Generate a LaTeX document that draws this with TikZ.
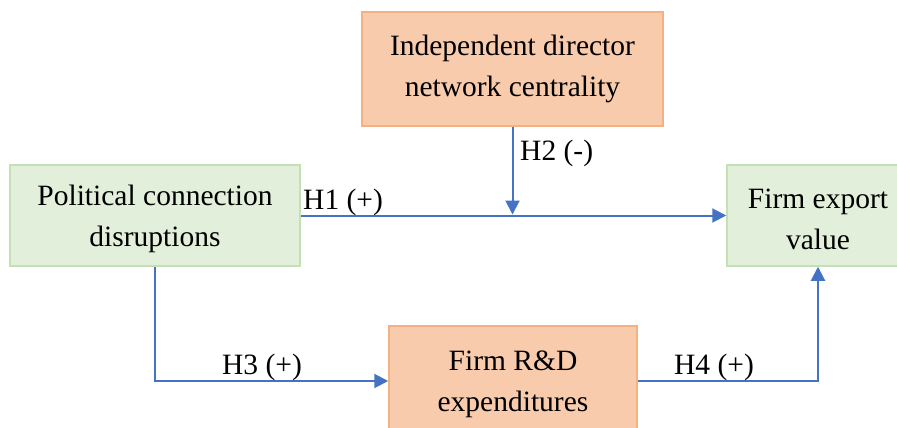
\documentclass[tikz,border=0pt]{standalone}
\usepackage{fontspec}
\setmainfont{Liberation Serif}
\usetikzlibrary{arrows.meta}
\definecolor{peachfill}{HTML}{F8CBAD}
\definecolor{peachline}{HTML}{F4B183}
\definecolor{greenfill}{HTML}{E2EFDA}
\definecolor{greenline}{HTML}{C5E0B4}
\definecolor{linkblue}{HTML}{4472C4}
% tall strut on the first line pushes the two-line text a little lower
\newcommand{\firstline}{\rule{0pt}{27pt}}
\tikzset{
  box/.style={draw, line width=1.5pt, inner sep=0pt, align=center,
    font=\fontsize{29.5}{41}\selectfont},
  peachbox/.style={box, fill=peachfill, draw=peachline},
  greenbox/.style={box, fill=greenfill, draw=greenline},
  link/.style={draw=linkblue, line width=2pt,
    -{Triangle[length=14pt,width=14pt]}},
  hlabel/.style={font=\fontsize{29.5}{34}\selectfont, inner sep=0pt}
}
\begin{document}
\begin{tikzpicture}[x=1pt,y=-1pt]
\useasboundingbox (0,0) rectangle (897,428);
% boxes
\node[peachbox, minimum width=301pt, minimum height=114pt] (ind) at (512.5,69)
  {Independent director\\network centrality};
\node[greenbox, minimum width=290pt, minimum height=101pt] (pol) at (155,215.5)
  {\firstline Political connection\\disruptions};
\node[greenbox, minimum width=182pt, minimum height=101pt] (exp) at (818,215.5)
  {\firstline Firm export\\value};
\node[peachbox, minimum width=248pt, minimum height=110pt] (rd) at (513,381)
  {\firstline Firm R\&D\\expenditures};
% connectors
\coordinate (mod) at (ind.south |- pol.east);
\draw[link] (pol.east) -- (exp.west);
\draw[link, shorten >=1pt] (ind.south) -- (mod);
\draw[link] (pol.south) |- (rd.west);
\draw[link] (rd.east) -| (exp.south);
% labels
\node[hlabel, anchor=west] (h1) at (303,202) {H1 (+)};
\node[hlabel, anchor=west] (h2) at (520,153) {H2 (-)};
\node[hlabel] (h3) at (262,367) {H3 (+)};
\node[hlabel] (h4) at (714,367) {H4 (+)};
\end{tikzpicture}
\end{document}
